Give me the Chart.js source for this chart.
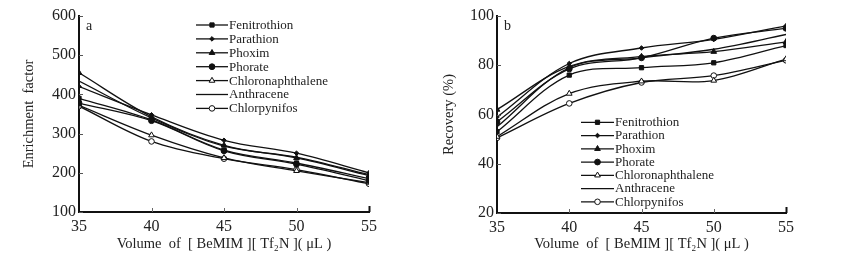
<!DOCTYPE html>
<html>
<head>
<meta charset="utf-8">
<script src="https://cdn.jsdelivr.net/npm/chart.js@4.4.0/dist/chart.umd.min.js"></script>
<style>
  html, body { margin: 0; padding: 0; background: #fff; }
  #wrap { position: relative; width: 843px; height: 274px; }
  canvas { position: absolute; top: 0; }
</style>
</head>
<body>
<div id="wrap">
  <canvas id="chartA" width="420" height="274" style="left:0"></canvas>
  <canvas id="chartB" width="423" height="274" style="left:420px"></canvas>
</div>
<script>
// x values: volume of ionic liquid (uL)
const volumes = [35, 40, 45, 50, 55];
const compounds = ['Fenitrothion', 'Parathion', 'Phoxim', 'Phorate', 'Chloronaphthalene', 'Anthracene', 'Chlorpynifos'];

// panel a - enrichment factor
const efFenitrothion      = [390, 335, 258, 225, 185];
const efParathion         = [420, 348, 283, 250, 200];
const efPhoxim            = [455, 343, 270, 238, 193];
const efPhorate           = [378, 333, 256, 222, 180];
const efChloronaphthalene = [372, 296, 238, 205, 175];
const efAnthracene        = [434, 340, 268, 240, 195];
const efChlorpynifos      = [370, 280, 236, 208, 172];
const efTicks = [100, 200, 300, 400, 500, 600];

// panel b - recovery (%)
const recFenitrothion      = [53, 76, 79, 81, 88];
const recParathion         = [59, 80.7, 87, 90.5, 96];
const recPhoxim            = [62, 79.5, 83.5, 85.5, 89.5];
const recPhorate           = [57, 78.5, 83, 91, 95];
const recChloronaphthalene = [51, 68.5, 73.5, 73.8, 82.5];
const recAnthracene        = [55, 79, 83, 86.5, 92.5];
const recChlorpynifos      = [50.5, 64.5, 73, 75.8, 82];
const recTicks = [20, 40, 60, 80, 100];

const markers = [
  { style: 'rect', r: 3, fill: '#111' },
  { style: 'rectRot', r: 2.3, fill: '#111' },
  { style: 'triangle', r: 3.3, fill: '#111' },
  { style: 'circle', r: 2.9, fill: '#111' },
  { style: 'triangle', r: 3.3, fill: '#fff' },
  { style: false, r: 0, fill: '#111' },
  { style: 'circle', r: 2.8, fill: '#fff' }
];

const serif = 'Liberation Serif';
const textColor = '#222';

function makeDatasets(seriesList) {
  return seriesList.map((vals, i) => ({
    label: compounds[i],
    data: vals.map((v, j) => ({ x: volumes[j], y: v })),
    borderColor: '#111',
    borderWidth: 1.3,
    backgroundColor: markers[i].fill,
    pointStyle: markers[i].style,
    pointRadius: markers[i].r,
    pointBorderColor: '#111',
    pointBorderWidth: 1,
    tension: 0.35,
    fill: false
  }));
}

// line+marker legend, panel letter and inward ticks
const decorPlugin = {
  id: 'decor',
  afterDraw(chart, args, opts) {
    const ctx = chart.ctx;
    const xs = chart.scales.x, ys = chart.scales.y;
    ctx.save();
    // inward ticks
    ctx.strokeStyle = '#555';
    ctx.lineWidth = 1;
    ys.ticks.forEach(t => {
      const y = Math.round(ys.getPixelForValue(t.value)) + 0.5;
      ctx.beginPath();
      ctx.moveTo(xs.left, y);
      ctx.lineTo(xs.left + 4, y);
      ctx.stroke();
    });
    xs.ticks.forEach(t => {
      if (t.value === volumes[0]) return;
      const last = t.value === volumes[volumes.length - 1];
      const x = Math.round(xs.getPixelForValue(t.value)) + 0.5;
      ctx.lineWidth = last ? 2 : 1;
      ctx.strokeStyle = last ? '#111' : '#666';
      ctx.beginPath();
      ctx.moveTo(x, ys.bottom);
      ctx.lineTo(x, ys.bottom - (last ? 6 : 4));
      ctx.stroke();
    });
    // panel letter
    ctx.fillStyle = textColor;
    ctx.font = '14px "' + serif + '"';
    ctx.textBaseline = 'middle';
    ctx.textAlign = 'left';
    ctx.fillText(opts.letter, opts.letterX, opts.letterY);
    // legend
    ctx.font = '13px "' + serif + '"';
    chart.data.datasets.forEach((ds, i) => {
      const y = opts.y0 + i * opts.dy;
      ctx.strokeStyle = '#111';
      ctx.lineWidth = 1.3;
      ctx.beginPath();
      ctx.moveTo(opts.x0, y);
      ctx.lineTo(opts.x1, y);
      ctx.stroke();
      if (ds.pointStyle) {
        ctx.fillStyle = ds.backgroundColor;
        ctx.strokeStyle = '#111';
        ctx.lineWidth = 1;
        Chart.helpers.drawPoint(ctx, { pointStyle: ds.pointStyle, radius: ds.pointRadius, rotation: 0, borderWidth: 1 },
          (opts.x0 + opts.x1) / 2, y);
      }
      ctx.fillStyle = textColor;
      ctx.fillText(ds.label, opts.x1 + 1, y + 0.5);
    });
    ctx.restore();
  }
};

function makeChart(id, seriesList, yTicks, yTitle, axisW, xAxisH, padRight, decor) {
  return new Chart(document.getElementById(id), {
    type: 'line',
    data: { datasets: makeDatasets(seriesList) },
    options: {
      responsive: false,
      animation: false,
      layout: { padding: { left: 0, right: padRight, top: 16, bottom: 0 } },
      plugins: { legend: { display: false }, tooltip: { enabled: false }, decor: decor },
      scales: {
        x: {
          type: 'linear',
          min: volumes[0],
          max: volumes[volumes.length - 1],
          afterBuildTicks: s => { s.ticks = volumes.map(v => ({ value: v })); },
          grid: { display: false, drawTicks: false },
          border: { display: true, color: '#111', width: 2 },
          ticks: { color: textColor, font: { family: serif, size: 16 }, padding: 5, maxRotation: 0 },
          title: { display: true, text: 'Volume  of  [ BeMIM ][ Tf\u2082N ]( \u03bcL )', color: textColor,
                   font: { family: serif, size: 14.5 }, padding: { top: 0, bottom: 21 } },
          afterFit: s => { s.height = xAxisH; }
        },
        y: {
          min: yTicks[0],
          max: yTicks[yTicks.length - 1],
          afterBuildTicks: s => { s.ticks = yTicks.map(v => ({ value: v })); },
          grid: { display: false, drawTicks: false },
          border: { display: true, color: '#111', width: 2 },
          ticks: { color: textColor, font: { family: serif, size: 16 }, padding: 3 },
          title: { display: true, text: yTitle, color: textColor,
                   font: { family: serif, size: 14.5 }, padding: { top: 20, bottom: 0 } },
          afterFit: s => { s.width = axisW; }
        }
      }
    },
    plugins: [decorPlugin]
  });
}

makeChart('chartA',
  [efFenitrothion, efParathion, efPhoxim, efPhorate, efChloronaphthalene, efAnthracene, efChlorpynifos],
  efTicks, 'Enrichment  factor', 79, 62, 51,
  { letter: 'a', letterX: 86, letterY: 26, x0: 196, x1: 228, y0: 25, dy: 13.9 });

makeChart('chartB',
  [recFenitrothion, recParathion, recPhoxim, recPhorate, recChloronaphthalene, recAnthracene, recChlorpynifos],
  recTicks, 'Recovery (%)', 77, 61, 57,
  { letter: 'b', letterX: 84, letterY: 26, x0: 161, x1: 194, y0: 122.3, dy: 13.25 });
</script>
</body>
</html>
